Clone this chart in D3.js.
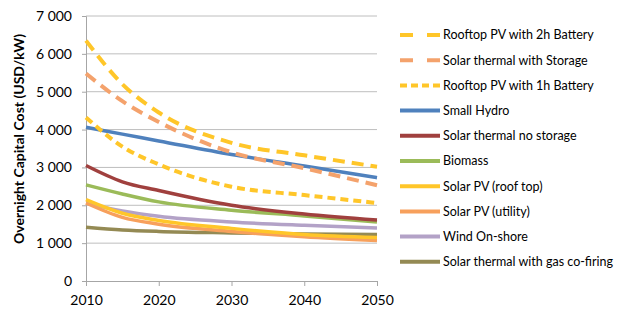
<!DOCTYPE html>
<html>
<head>
  <meta charset="utf-8">
  <script src="https://cdn.jsdelivr.net/npm/d3@7"></script>
  <style>
    body { margin: 0; background: #fff; }
    text { font-family: Lato, "Open Sans", sans-serif; fill: #000; }
  </style>
</head>
<body>
  <svg id="chart" width="638" height="319"></svg>
  <script>
    var years = [2010, 2015, 2020, 2030, 2040, 2050];
    var yTicks = [0, 1000, 2000, 3000, 4000, 5000, 6000, 7000];
    var xTicks = [2010, 2020, 2030, 2040, 2050];

    var rooftop2h     = [6350, 5200, 4450, 3650, 3320, 3020];
    var thermalStore  = [5480, 4750, 4200, 3400, 2980, 2530];
    var rooftop1h     = [4320, 3550, 3080, 2490, 2270, 2060];
    var smallHydro    = [4060, 3880, 3700, 3340, 3040, 2730];
    var thermalNoSt   = [3050, 2620, 2390, 2000, 1770, 1610];
    var biomass       = [2540, 2300, 2090, 1870, 1720, 1560];
    var pvRoof        = [2150, 1790, 1600, 1390, 1230, 1150];
    var pvUtility     = [2060, 1680, 1500, 1310, 1170, 1070];
    var windOnshore   = [2050, 1850, 1710, 1560, 1470, 1400];
    var thermalGas    = [1420, 1350, 1310, 1270, 1240, 1230];

    var series = [
      {name: "Rooftop PV with 2h Battery", values: rooftop2h, color: "#FFC629", dash: "12,7", legendDash: "13,14"},
      {name: "Solar thermal with Storage", values: thermalStore, color: "#F4A26C", dash: "12,7", legendDash: "13,14"},
      {name: "Rooftop PV with 1h Battery", values: rooftop1h, color: "#FFC629", dash: "8,5", legendDash: "7,4"},
      {name: "Small Hydro", values: smallHydro, color: "#4F81BD"},
      {name: "Solar thermal no storage", values: thermalNoSt, color: "#A0403E"},
      {name: "Biomass", values: biomass, color: "#9BBB59"},
      {name: "Solar PV (roof top)", values: pvRoof, color: "#FFC629"},
      {name: "Solar PV (utility)", values: pvUtility, color: "#F7A05C"},
      {name: "Wind On-shore", values: windOnshore, color: "#B3A2C7"},
      {name: "Solar thermal with gas co-firing", values: thermalGas, color: "#948A54"}
    ];

    var svg = d3.select("#chart");
    var plotLeft = 86, plotRight = 377, plotTop = 16, plotBottom = 281;

    var x = d3.scaleLinear().domain([2010, 2050]).range([plotLeft, plotRight]);
    var y = d3.scaleLinear().domain([0, 7000]).range([plotBottom, plotTop]);

    // gridlines
    svg.append("g")
      .selectAll("line")
      .data(yTicks.filter(function(d) { return d > 0; }))
      .enter().append("line")
        .attr("x1", plotLeft).attr("x2", plotRight)
        .attr("y1", function(d) { return y(d); })
        .attr("y2", function(d) { return y(d); })
        .attr("stroke", "#BEBEBE").attr("stroke-width", 1);

    var fmt = function(d) { return d === 0 ? "0" : d3.format(",")(d).replace(",", " "); };

    var yAxis = svg.append("g")
      .attr("transform", "translate(" + plotLeft + ",0)")
      .call(d3.axisLeft(y).tickValues(yTicks).tickSize(4).tickPadding(10).tickFormat(fmt));
    var xAxis = svg.append("g")
      .attr("transform", "translate(0," + plotBottom + ")")
      .call(d3.axisBottom(x).tickValues(xTicks).tickSize(5).tickPadding(9).tickFormat(d3.format("d")));

    [yAxis, xAxis].forEach(function(a) {
      a.select(".domain").attr("stroke", "#A6A6A6");
      a.selectAll(".tick line").attr("stroke", "#A6A6A6");
      a.selectAll("text").style("font-size", "14px").attr("fill", "#000");
    });

    svg.append("text")
      .attr("transform", "translate(24,139) rotate(-90)")
      .attr("text-anchor", "middle")
      .style("font-size", "14px")
      .style("font-weight", "bold")
      .text("Overnight Capital Cost (USD/kW)");

    var line = d3.line()
      .x(function(d, i) { return x(years[i]); })
      .y(function(d) { return y(d); })
      .curve(d3.curveMonotoneX);

    // draw from last to first so the upper legend entries end on top
    series.slice().reverse().forEach(function(s) {
      svg.append("path")
        .attr("d", line(s.values))
        .attr("fill", "none")
        .attr("stroke", s.color)
        .attr("stroke-width", s.dash ? 4 : 3.5)
        .attr("stroke-dasharray", s.dash || null);
    });

    var legend = svg.append("g").attr("transform", "translate(400,35)");
    var row = legend.selectAll("g")
      .data(series)
      .enter().append("g")
        .attr("transform", function(d, i) { return "translate(0," + (i * 25.2) + ")"; });

    row.append("line")
      .attr("x1", 0).attr("x2", 40)
      .attr("stroke", function(d) { return d.color; })
      .attr("stroke-width", 4)
      .attr("stroke-dasharray", function(d) { return d.legendDash || null; });

    row.append("text")
      .attr("x", 43).attr("dy", "0.35em")
      .style("font-size", "12.5px")
      .text(function(d) { return d.name; });
  </script>
</body>
</html>
